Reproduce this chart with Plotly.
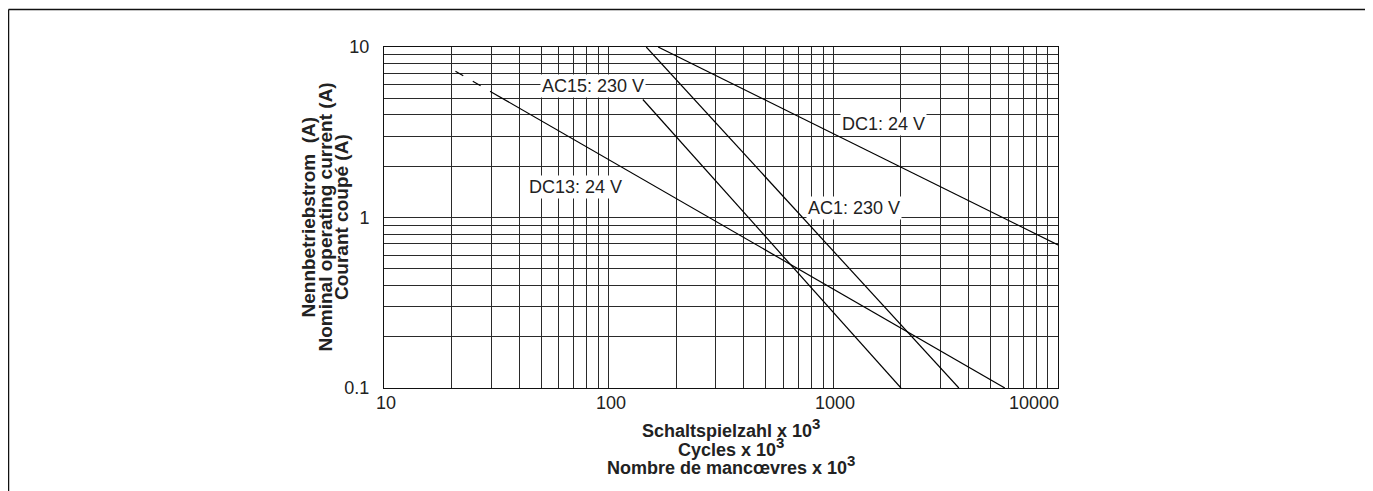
import math
import plotly.graph_objects as go

# ---- data ----
dc1_x = [166, 10000]
dc1_y = [10, 0.69]
ac1_x = [147, 3620]
ac1_y = [10, 0.1]
ac15_x = [142, 2000]
ac15_y = [4.92, 0.1]
dc13_x = [30, 5800]
dc13_y = [5.45, 0.1]
dc13_ext_x = [20.8, 30]
dc13_ext_y = [7.2, 5.45]

series_labels = ["AC15: 230 V", "DC13: 24 V", "DC1: 24 V", "AC1: 230 V"]
label_x = [85, 71, 1675, 1230]
label_y = [5.89, 1.51, 3.53, 1.14]

x_minor = [m * 10 ** e for e in (1, 2, 3) for m in range(2, 10)]
y_minor = [round(m * 10 ** e, 3) for e in (-1, 0) for m in range(2, 10)]
x_tick_vals = [10, 100, 1000, 10000]
x_tick_labels = ["10", "100", "1000", "10000"]
y_tick_vals = [0.1, 1, 10]
y_tick_labels = ["0.1", "1", "10"]

SUP3 = "<sup><span style='font-size:15px'>3</span></sup>"
y_title = ["Nennbetriebstrom  (A)", "Nominal operating current (A)", "Courant coupé (A)"]
x_title = ["Schaltspielzahl x 10" + SUP3, "Cycles x 10" + SUP3,
           "Nombre de mancœvres x 10" + SUP3]

FONT = "Liberation Sans, Arial, Helvetica, sans-serif"
OFF = 8  # page body margin
W, H = 1373 - OFF, 491 - OFF
L, T = 384 - OFF, 47 - OFF
PW, PH = 674, 341
R, B = W - L - PW, H - T - PH

fig = go.Figure()
line_style = dict(color="black", width=1.2)
for xs, ys in [(dc1_x, dc1_y), (ac1_x, ac1_y), (ac15_x, ac15_y), (dc13_x, dc13_y)]:
    fig.add_trace(go.Scatter(x=xs, y=ys, mode="lines", line=line_style,
                             hoverinfo="skip", showlegend=False))
fig.add_trace(go.Scatter(x=dc13_ext_x, y=dc13_ext_y, mode="lines",
                         line=dict(color="black", width=1.2, dash="9px,11px"),
                         hoverinfo="skip", showlegend=False))

ann = []
for t, xv, yv in zip(series_labels, label_x, label_y):
    ann.append(dict(x=math.log10(xv), y=math.log10(yv), xref="x", yref="y", text=t,
                    showarrow=False, bgcolor="white", borderpad=1,
                    font=dict(family=FONT, size=18, color="#222")))

anchors = ["center", "center", "center", "right"]
for t, v, a in zip(x_tick_labels, x_tick_vals, anchors):
    ann.append(dict(x=math.log10(v), y=0, xref="x", yref="paper", text=t, showarrow=False,
                    xanchor=a, yanchor="top", yshift=-3, xshift=(3 if a == "right" else 2),
                    font=dict(family=FONT, size=18, color="#222")))

for t, dx in zip(y_title, [-76, -59, -42.5]):
    ann.append(dict(x=0, y=0.5, xref="paper", yref="paper", text=t, showarrow=False,
                    textangle=-90, xanchor="center", yanchor="middle", xshift=dx,
                    font=dict(family=FONT, size=19, color="#222", weight="bold")))

for t, dy in zip(x_title, [-40, -58.5, -77]):
    ann.append(dict(x=0.5, y=0, xref="paper", yref="paper", text=t, showarrow=False,
                    xanchor="center", yanchor="middle", xshift=10, yshift=dy,
                    font=dict(family=FONT, size=18, color="#222", weight="bold")))


def px(xp):
    return (xp - OFF - L) / PW


def py(yp):
    return (H - B - (yp - OFF)) / PH


shapes = [
    dict(type="line", xref="paper", yref="paper", x0=px(8.5), x1=px(1371.5), y0=py(9.5), y1=py(9.5),
         line=dict(color="#111", width=1.5)),
    dict(type="line", xref="paper", yref="paper", x0=px(8.5), x1=px(8.5), y0=py(9.5), y1=py(495),
         line=dict(color="#111", width=1.5)),
    dict(type="line", xref="paper", yref="paper", x0=px(1371.5), x1=px(1371.5), y0=py(9.5), y1=py(495),
         line=dict(color="#888", width=2)),
]

grid = dict(showgrid=True, gridcolor="#2a2a2a", gridwidth=1)
fig.update_layout(
    width=W, height=H, autosize=False,
    margin=dict(l=L, r=R, t=T, b=B, pad=0),
    plot_bgcolor="white", paper_bgcolor="white",
    annotations=ann, shapes=shapes,
    xaxis=dict(type="log", range=[1, 4], tickmode="array", tickvals=x_tick_vals,
               showticklabels=False, **grid,
               minor=dict(tickmode="array", tickvals=x_minor, **grid, ticks=""),
               showline=True, linecolor="#111", linewidth=1, mirror=True, ticks="",
               zeroline=False),
    yaxis=dict(type="log", range=[-1, 1], tickmode="array", tickvals=y_tick_vals,
               ticktext=y_tick_labels, **grid,
               minor=dict(tickmode="array", tickvals=y_minor, **grid, ticks=""),
               showline=True, linecolor="#111", linewidth=1, mirror=True, ticks="",
               zeroline=False, ticklabelstandoff=10,
               tickfont=dict(family=FONT, size=18, color="#222")),
)

fig.write_html("out.html")
